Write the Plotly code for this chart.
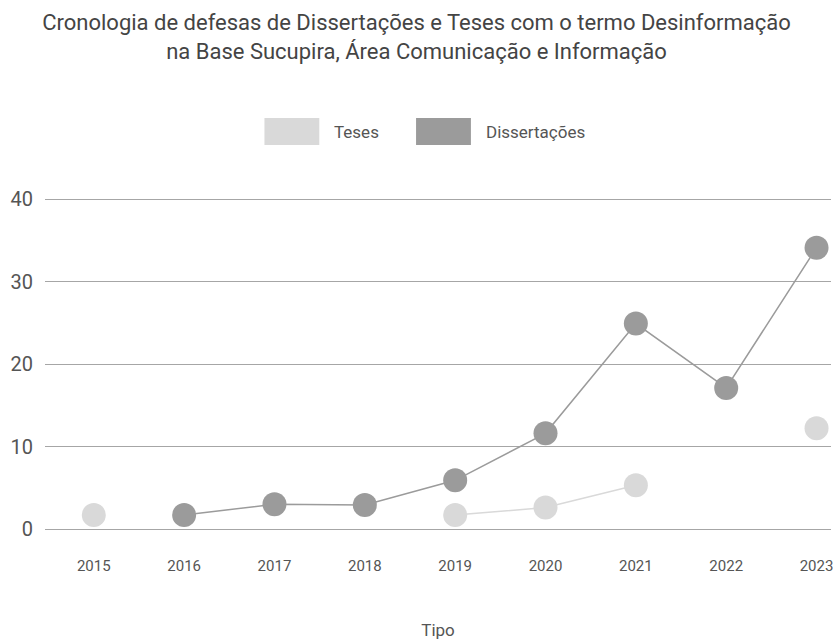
import plotly.graph_objects as go

years = ["2015", "2016", "2017", "2018", "2019", "2020", "2021", "2022", "2023"]
teses = [1.7, None, None, None, 1.7, 2.6, 5.3, None, 12.2]
dissertacoes = [None, 1.7, 3.0, 2.9, 5.9, 11.6, 24.9, 17.1, 34.1]
y_ticks = [0, 10, 20, 30, 40]

c_teses = "#d9d9d9"
c_diss = "#9b9b9b"
font_family = "Roboto, Arial, sans-serif"

W, H = 833, 640
PL, PR, PT, PB = 45, 833, 195, 529  # plot area pixel bounds


def px_x(px):
    return (px - PL) / (PR - PL)


def px_y(py):
    return (PB - py) / (PB - PT)


fig = go.Figure()
fig.add_trace(go.Scatter(
    x=years, y=teses, name="Teses", mode="lines+markers",
    line=dict(color=c_teses, width=1.5),
    marker=dict(color=c_teses, size=24),
    connectgaps=False,
))
fig.add_trace(go.Scatter(
    x=years, y=dissertacoes, name="Dissertações", mode="lines+markers",
    line=dict(color=c_diss, width=1.5),
    marker=dict(color=c_diss, size=24),
    connectgaps=False,
))

# manual legend (rectangular swatches)
legend_items = [("Teses", c_teses, 265), ("Dissertações", c_diss, 417)]
for label, color, sx in legend_items:
    fig.add_shape(type="rect", xref="paper", yref="paper",
                  x0=px_x(sx), x1=px_x(sx + 55), y0=px_y(145), y1=px_y(118),
                  fillcolor=color, line=dict(width=0), layer="above")
    fig.add_annotation(text=label, xref="paper", yref="paper",
                       x=px_x(sx + 68), y=px_y(132),
                       xanchor="left", yanchor="middle", showarrow=False,
                       font=dict(size=17, color="#555", family=font_family))

fig.update_layout(
    width=W, height=H,
    margin=dict(l=PL, r=W - PR, t=PT, b=H - PB),
    paper_bgcolor="white", plot_bgcolor="white",
    showlegend=False,
    font=dict(family=font_family, color="#555"),
    title=dict(
        text="Cronologia de defesas de Dissertações e Teses com o termo Desinformação"
             "<br>na Base Sucupira, Área Comunicação e Informação",
        x=0.5, xanchor="center", xref="container",
        y=1 - 30 / H, yanchor="middle", yref="container",
        font=dict(size=22, color="#444", family=font_family),
    ),
    xaxis=dict(
        type="category", range=[-0.54, 8.16],
        showgrid=False, zeroline=False, showline=False,
        tickfont=dict(size=15, color="#555"),
        ticklabelstandoff=26,
        title=dict(text="Tipo", font=dict(size=17, color="#555"), standoff=50),
    ),
    yaxis=dict(
        range=[0, (PB - PT) / 8.25], tickvals=y_ticks,
        showgrid=True, gridcolor="#a6a6a6", gridwidth=1,
        zeroline=True, zerolinecolor="#a6a6a6", zerolinewidth=1,
        showline=False,
        tickfont=dict(size=20, color="#555"),
        ticklabelstandoff=11,
    ),
)

fig.write_html("out.html", config={"displayModeBar": False},
               post_script="document.body.style.margin='0px';")
